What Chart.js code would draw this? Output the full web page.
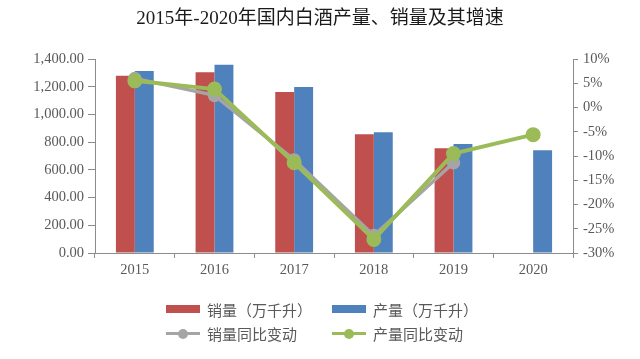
<!DOCTYPE html>
<html><head><meta charset="utf-8">
<script src="https://cdn.jsdelivr.net/npm/chart.js@4/dist/chart.umd.min.js"></script>
<style>
html,body{margin:0;padding:0;background:#fff;}
#wrap{position:relative;width:640px;height:359px;}
#legend{position:absolute;left:166px;top:297px;display:grid;grid-template-columns:166px auto;grid-auto-rows:24px;font-family:"Noto Sans CJK SC","Noto Sans",sans-serif;font-size:15px;color:#595959;}
.item{display:flex;align-items:center;height:24px;white-space:nowrap;}
.mk{position:relative;width:34px;height:12px;margin-right:7px;flex:none;}
.mk .bar{position:absolute;left:0;top:2px;width:34px;height:8px;}
.mk .ln{position:absolute;left:0;top:5px;width:34px;height:3px;}
.mk .dot{position:absolute;left:12px;top:1.5px;width:10px;height:10px;border-radius:50%;}
</style></head><body>
<div id="wrap"><canvas id="c" width="640" height="359"></canvas><div id="legend"></div></div>
<script>
const titleText = '2015年-2020年国内白酒产量、销量及其增速';
const categories = ['2015', '2016', '2017', '2018', '2019', '2020'];
const salesVolume = [1280, 1305, 1161, 857, 756, null];
const productionVolume = [1313, 1358, 1198, 871, 786, 741];
const salesGrowth = [6.0, 2.5, -10.8, -26.4, -11.4, null];
const productionGrowth = [5.5, 3.8, -11.4, -27.2, -9.5, -5.6];
const seriesLabels = ['销量（万千升）', '产量（万千升）', '销量同比变动', '产量同比变动'];
const leftAxis = {min: 0, max: 1400, step: 200};
const rightAxis = {min: -30, max: 10, step: 5};

const tickFont = {family: "'Liberation Serif','Times New Roman',serif", size: 14.5};
const tickColor = '#595959';
const axisColor = '#8c8c8c';

const chart = new Chart(document.getElementById('c'), {
  data: {
    labels: categories,
    datasets: [
      {type: 'bar', label: seriesLabels[0], data: salesVolume, backgroundColor: '#C0504D', yAxisID: 'y', categoryPercentage: 0.475, barPercentage: 1, order: 3},
      {type: 'bar', label: seriesLabels[1], data: productionVolume, backgroundColor: '#4F81BD', yAxisID: 'y', categoryPercentage: 0.475, barPercentage: 1, order: 4},
      {type: 'line', label: seriesLabels[2], data: salesGrowth, borderColor: '#A5A5A5', backgroundColor: '#A5A5A5', pointBackgroundColor: '#A5A5A5', pointBorderColor: '#A5A5A5', borderWidth: 3.5, pointRadius: 5, yAxisID: 'y1', order: 2},
      {type: 'line', label: seriesLabels[3], data: productionGrowth, borderColor: '#9BBB59', backgroundColor: '#9BBB59', pointBackgroundColor: '#9BBB59', pointBorderColor: '#9BBB59', borderWidth: 4, pointRadius: 5.5, yAxisID: 'y1', order: 1}
    ]
  },
  options: {
    responsive: false,
    animation: false,
    devicePixelRatio: 1,
    layout: {padding: {top: 0, left: 0, right: 0, bottom: 76}},
    plugins: {
      legend: {display: false},
      tooltip: {enabled: false},
      title: {
        display: true, text: titleText, color: '#1a1a1a',
        font: {family: "'Liberation Serif','Noto Sans CJK SC',serif", size: 19, weight: 'normal'},
        padding: {top: 8, bottom: 28.2}
      }
    },
    scales: {
      x: {
        grid: {display: true, drawOnChartArea: false, drawTicks: true, tickLength: 5, color: axisColor, offset: true},
        border: {display: true, color: axisColor, width: 1},
        ticks: {font: tickFont, color: tickColor, padding: 3},
        afterFit: s => { s.height = 30; }
      },
      y: {
        position: 'left', min: leftAxis.min, max: leftAxis.max,
        grid: {display: true, drawOnChartArea: false, drawTicks: true, tickLength: 7, color: axisColor},
        border: {display: true, color: axisColor, width: 1},
        ticks: {stepSize: leftAxis.step, font: tickFont, color: tickColor, padding: 4,
          callback: v => Number(v).toLocaleString('en-US', {minimumFractionDigits: 2, maximumFractionDigits: 2})},
        afterFit: s => { s.width = 95; }
      },
      y1: {
        position: 'right', min: rightAxis.min, max: rightAxis.max,
        grid: {display: true, drawOnChartArea: false, drawTicks: true, tickLength: 5, color: axisColor},
        border: {display: true, color: axisColor, width: 1},
        ticks: {stepSize: rightAxis.step, font: tickFont, color: tickColor, padding: 5, callback: v => v + '%'},
        afterFit: s => { s.width = 67; }
      }
    }
  }
});

// HTML legend built from the chart's datasets
const legendEl = document.getElementById('legend');
chart.data.datasets.forEach(ds => {
  const item = document.createElement('div');
  item.className = 'item';
  const mk = document.createElement('span');
  mk.className = 'mk';
  if (ds.type === 'bar') {
    const b = document.createElement('span'); b.className = 'bar'; b.style.background = ds.backgroundColor; mk.appendChild(b);
  } else {
    const l = document.createElement('span'); l.className = 'ln'; l.style.background = ds.borderColor; mk.appendChild(l);
    const d = document.createElement('span'); d.className = 'dot'; d.style.background = ds.borderColor; mk.appendChild(d);
  }
  const t = document.createElement('span');
  t.textContent = ds.label;
  item.appendChild(mk); item.appendChild(t);
  legendEl.appendChild(item);
});
</script>
</body></html>
